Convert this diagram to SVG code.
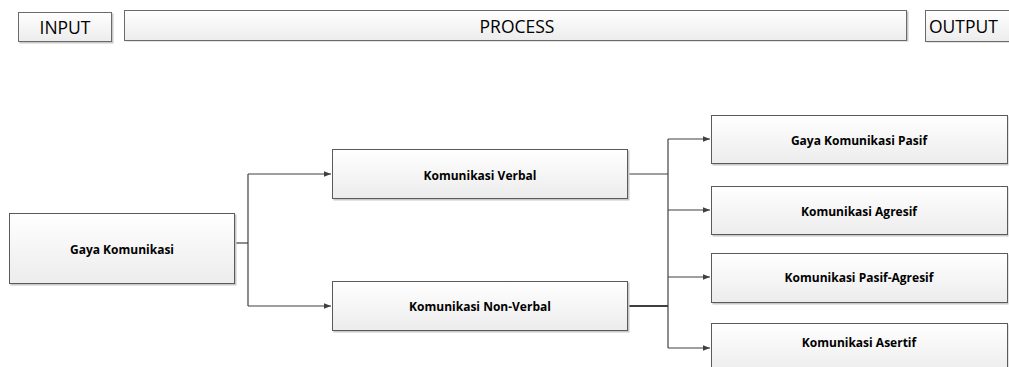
<svg xmlns="http://www.w3.org/2000/svg" width="1009" height="367" viewBox="0 0 1009 367">
<style>
.box{fill:url(#g);stroke:#5a5a5a;stroke-width:1}
.hbox{fill:url(#g);stroke:#6a6a6a;stroke-width:1}
.sh{fill:#c8c8c8}
.t{font-family:"Open Sans","Noto Sans",sans-serif;font-weight:bold;font-size:12px;fill:#000;text-anchor:middle;dominant-baseline:central}
.h{font-family:"Open Sans","Noto Sans",sans-serif;font-size:17.5px;fill:#000;text-anchor:middle;dominant-baseline:central}
.c{fill:none;stroke:#404040;stroke-width:1.2}
</style>
<defs>
<linearGradient id="g" x1="0" y1="0" x2="0" y2="1">
<stop offset="0" stop-color="#ffffff"/>
<stop offset="1" stop-color="#ececec"/>
</linearGradient>
<marker id="a" viewBox="0 0 10 10" refX="10" refY="5" markerWidth="7" markerHeight="7" orient="auto" markerUnits="userSpaceOnUse">
<path d="M0,1 L10,5 L0,9 z" fill="#404040"/>
</marker>
</defs>
<rect width="1009" height="367" fill="#fff"/>
<g id="input"><rect class="sh" x="19.5" y="13.5" width="94" height="30"/><rect class="hbox" x="18.5" y="12.5" width="93" height="29"/><text class="h" x="65" y="27">INPUT</text></g>
<g id="process"><rect class="sh" x="125.5" y="11.5" width="783" height="30"/><rect class="hbox" x="124.5" y="10.5" width="782" height="30"/><text class="h" x="517" y="26">PROCESS</text></g>
<g id="output"><rect class="sh" x="926.5" y="11.5" width="90" height="31"/><rect class="hbox" x="925.5" y="10.5" width="90" height="31"/><text class="h" x="929" y="26" style="text-anchor:start">OUTPUT</text></g>
<g id="connectors">
<path class="c" d="M235,243 H248"/>
<path class="c" d="M248,174 V306"/>
<path class="c" d="M248,174 H331" marker-end="url(#a)"/>
<path class="c" d="M248,306 H331" marker-end="url(#a)"/>
<path class="c" d="M628,174 H668"/>
<path class="c" d="M628,306 H668" style="stroke-width:2"/>
<path class="c" d="M668,139 V348"/>
<path class="c" d="M668,139 H710" marker-end="url(#a)"/>
<path class="c" d="M668,210 H710" marker-end="url(#a)"/>
<path class="c" d="M668,277 H710" marker-end="url(#a)"/>
<path class="c" d="M668,348 H710" marker-end="url(#a)"/>
</g>
<g id="gaya"><rect class="sh" x="10.5" y="214.5" width="226" height="71"/><rect class="box" x="9.5" y="213.5" width="225" height="70"/><text class="t" x="122" y="249">Gaya Komunikasi</text></g>
<g id="verbal"><rect class="sh" x="333.5" y="150.5" width="296" height="50"/><rect class="box" x="332.5" y="149.5" width="295" height="49"/><text class="t" x="480" y="175">Komunikasi Verbal</text></g>
<g id="nonverbal"><rect class="sh" x="333.5" y="282.5" width="296" height="50"/><rect class="box" x="332.5" y="281.5" width="295" height="49"/><text class="t" x="480" y="306">Komunikasi Non-Verbal</text></g>
<g id="pasif"><rect class="sh" x="712.5" y="116.5" width="296" height="49"/><rect class="box" x="711.5" y="115.5" width="296" height="48"/><text class="t" x="859" y="140">Gaya Komunikasi Pasif</text></g>
<g id="agresif"><rect class="sh" x="712.5" y="187.5" width="296" height="49"/><rect class="box" x="711.5" y="186.5" width="296" height="48"/><text class="t" x="859" y="211">Komunikasi Agresif</text></g>
<g id="pasifagresif"><rect class="sh" x="712.5" y="254.5" width="296" height="50"/><rect class="box" x="711.5" y="253.5" width="296" height="49"/><text class="t" x="859" y="277">Komunikasi Pasif-Agresif</text></g>
<g id="asertif"><rect class="sh" x="712.5" y="324.5" width="296" height="50"/><rect class="box" x="711.5" y="323.5" width="296" height="49"/><text class="t" x="859" y="342">Komunikasi Asertif</text></g>
</svg>
